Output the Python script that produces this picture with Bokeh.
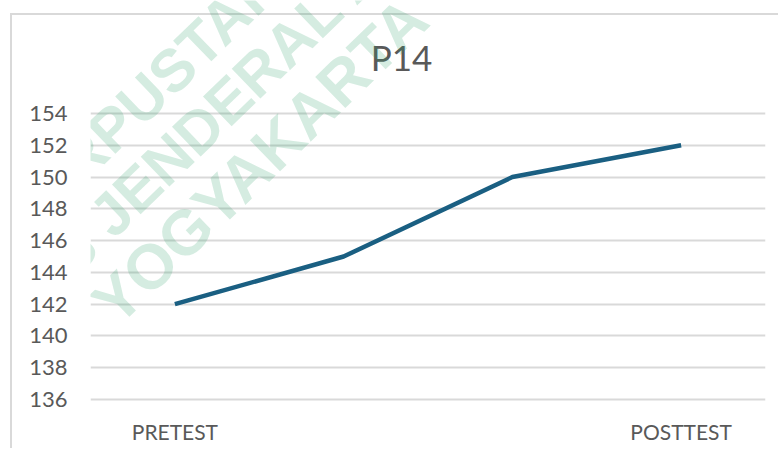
import math
from bokeh.plotting import figure
from bokeh.models import Range1d, FixedTicker, Label
from bokeh.embed import file_html
from bokeh.resources import INLINE

# ---- data ----
categories = ["PRETEST", "", "", "POSTTEST"]
values = [142, 145, 150, 152]
y_ticks = [136, 138, 140, 142, 144, 146, 148, 150, 152, 154]
title_text = "P14"
wm_line1 = "PERPUSTAKAAN"
wm_line2a = "UNIVERSITAS"
wm_line2b = "JENDERAL ACHMAD YANI"
wm_line3 = "YOGYAKARTA"

# ---- layout (page pixels) ----
W, H = 778, 448
PAGE_X0, PAGE_Y0 = 0, 0                  # figure's top-left on the page
FRAME_L, FRAME_R = 90, 765               # plot frame, page x
GRID_TOP_Y, GRID_BOT_Y = 113, 399        # page y of top / bottom tick
FRAME_B = 407                            # page y of frame bottom
ML = FRAME_L - PAGE_X0
MR = PAGE_X0 + W - FRAME_R
MT = 0
MB = PAGE_Y0 + H - FRAME_B
ppu = (GRID_BOT_Y - GRID_TOP_Y) / (y_ticks[-1] - y_ticks[0])
Y1 = y_ticks[-1] + (GRID_TOP_Y - PAGE_Y0) / ppu
Y0 = y_ticks[0] - (FRAME_B - GRID_BOT_Y) / ppu
X0, X1 = -0.5, len(categories) - 0.5
FW = FRAME_R - FRAME_L

def to_data(px, py):
    return X0 + (px - FRAME_L) / FW * (X1 - X0), Y1 - (py - PAGE_Y0) / ppu

TEXT = "#595959"
GRID = "#d9d9d9"
LINE = "#1a5f82"
FONT = "Lato"

p = figure(width=W, height=H, output_backend="svg", toolbar_location=None,
           title_location=None,
           x_range=Range1d(X0, X1), y_range=Range1d(Y0, Y1),
           min_border_left=ML, min_border_right=MR,
           min_border_top=MT, min_border_bottom=MB)
# chart-area border (left and top edges) painted behind a transparent canvas
p.styles = {
    "background-color": "white",
    "background-image": "linear-gradient(#d9d9d9, #d9d9d9), linear-gradient(#d9d9d9, #d9d9d9)",
    "background-size": "2px 100%, 100% 2px",
    "background-position": "10px 13px, 10px 13px",
    "background-repeat": "no-repeat",
}
p.outline_line_color = None
p.background_fill_color = None
p.border_fill_color = None

xs = list(range(len(values)))
p.line(xs, values, line_color=LINE, line_width=4.5, line_join="round")

# axes
xa = p.xaxis[0]
xa.ticker = FixedTicker(ticks=xs)
xa.major_label_overrides = {i: c for i, c in enumerate(categories)}
xa.axis_line_color = None
xa.major_tick_line_color = None
xa.minor_tick_line_color = None
xa.major_tick_out = 0
xa.major_label_standoff = 11
xa.major_label_text_font = FONT
xa.major_label_text_font_size = "21px"
xa.major_label_text_color = TEXT

ya = p.yaxis[0]
ya.ticker = FixedTicker(ticks=y_ticks)
ya.axis_line_color = None
ya.major_tick_line_color = None
ya.minor_tick_line_color = None
ya.major_tick_out = 0
ya.major_label_standoff = 23
ya.major_label_text_font = FONT
ya.major_label_text_font_size = "22px"
ya.major_label_text_color = TEXT

p.xgrid.grid_line_color = None
p.ygrid.ticker = FixedTicker(ticks=y_ticks)
p.ygrid.grid_line_color = GRID
p.ygrid.grid_line_width = 2

# title
tx, ty = to_data(401, 56)
p.add_layout(Label(x=tx, y=ty, text=title_text, text_align="center",
                   text_baseline="alphabetic", text_font=FONT,
                   text_font_size="35px", text_color=TEXT))

# watermark
ang = math.radians(44)
wm = [
    (wm_line1, 9, 227, "left", "60px"),
    (wm_line2a, 87, 237, "right", "60px"),
    (wm_line2b, 99, 225, "left", "60px"),
    (wm_line3, 259, 160, "center", "63px"),
]
for txt, px, py, al, fs in wm:
    dx, dy = to_data(px, py)
    p.add_layout(Label(x=dx, y=dy, text=txt, angle=ang, text_align=al,
                       text_baseline="middle", text_font="Liberation Sans",
                       text_font_style="bold", text_font_size=fs,
                       text_color="#2e9e6a", text_alpha=0.2))

open("out.html", "w").write(file_html(p, INLINE))
